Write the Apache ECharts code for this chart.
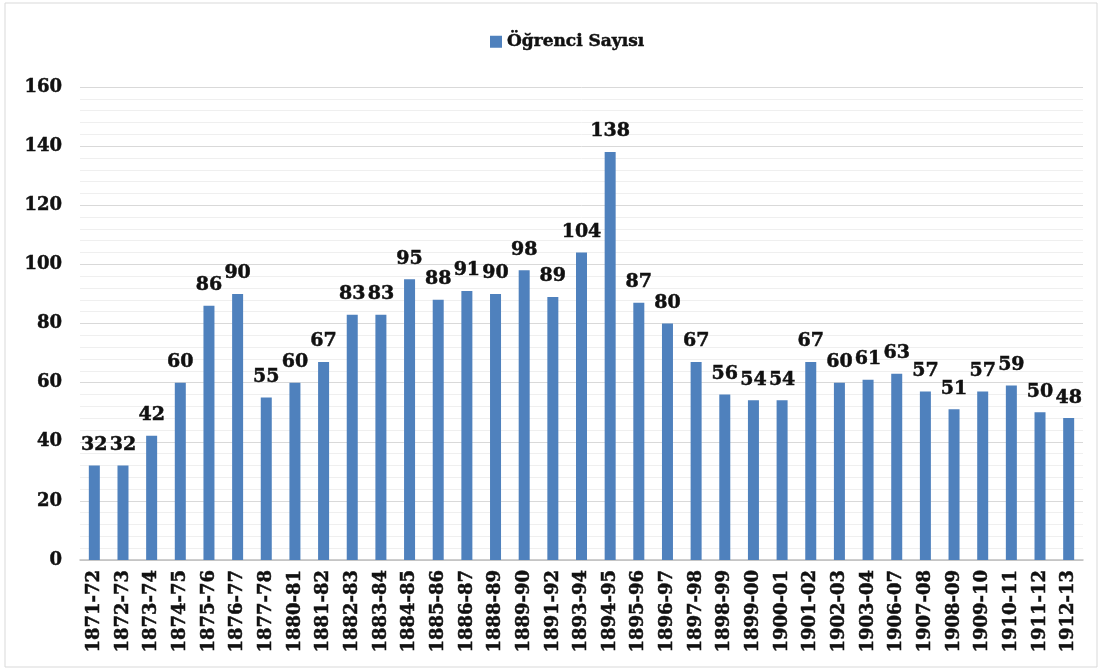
<!DOCTYPE html>
<html><head><meta charset="utf-8">
<script src="https://cdn.jsdelivr.net/npm/echarts@6/dist/echarts.min.js"></script>
<style>html,body{margin:0;padding:0;background:#fff}#c{width:1102px;height:672px}</style>
</head><body><div id="c"></div>
<script>
const categories = ["1871-72","1872-73","1873-74","1874-75","1875-76","1876-77","1877-78","1880-81","1881-82","1882-83","1883-84","1884-85","1885-86","1886-87","1888-89","1889-90","1891-92","1893-94","1894-95","1895-96","1896-97","1897-98","1898-99","1899-00","1900-01","1901-02","1902-03","1903-04","1906-07","1907-08","1908-09","1909-10","1910-11","1911-12","1912-13"];
const ogrenciSayisi = [32,32,42,60,86,90,55,60,67,83,83,95,88,91,90,98,89,104,138,87,80,67,56,54,54,67,60,61,63,57,51,57,59,50,48];
const seriesName = "Öğrenci Sayısı";
const FONT = "DejaVu Serif";
const TXT = {fontFamily:FONT,fontWeight:'bold',color:'#111',textBorderColor:'#111',textBorderWidth:0.5};
const chart = echarts.init(document.getElementById('c'));
chart.setOption({
  animation:false,
  backgroundColor:'#fff',
  graphic:[{type:'rect',shape:{x:5,y:3,width:1092,height:664},style:{fill:'none',stroke:'#d9d9d9',lineWidth:1}}],
  legend:{top:28,left:485,itemWidth:12,itemHeight:12,itemGap:5,
    textStyle:Object.assign({fontSize:17},TXT),
    data:[{name:seriesName,icon:'rect'}]},
  grid:{left:80,right:19,top:87,bottom:112},
  xAxis:{type:'category',data:categories,
    axisLine:{lineStyle:{color:'#bfbfbf',width:1.5}},axisTick:{show:false},
    axisLabel:Object.assign({rotate:90,interval:0,fontSize:18,margin:10},TXT)},
  yAxis:{type:'value',min:0,max:160,interval:20,
    axisLine:{show:false},axisTick:{show:false},
    axisLabel:Object.assign({fontSize:18,margin:18},TXT),
    splitLine:{lineStyle:{color:'#d9d9d9',width:1}},
    minorTick:{show:false,splitNumber:5},
    minorSplitLine:{show:true,lineStyle:{color:'#efefef',width:1}}},
  series:[{name:seriesName,type:'bar',data:ogrenciSayisi,barWidth:11,
    itemStyle:{color:'#4f81bd'},
    label:Object.assign({show:true,position:'top',distance:11,fontSize:19},TXT)}]
});
</script></body></html>
